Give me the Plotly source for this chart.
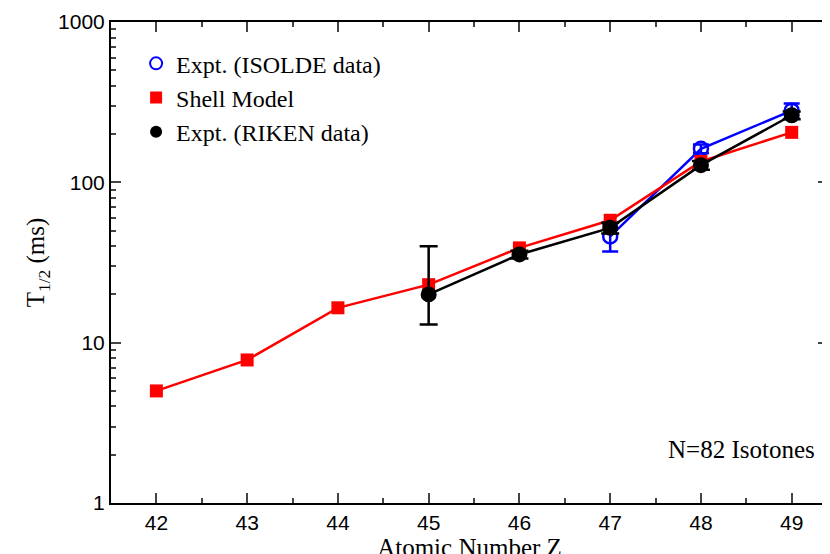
import plotly.graph_objects as go

z_sm = [42, 43, 44, 45, 46, 47, 48, 49]
t_sm = [5.0, 7.8, 16.5, 23, 39, 58, 135, 205]
z_is = [47, 48, 49]
t_is = [46, 162, 280]
is_up = [9, 10, 30]
is_dn = [9, 10, 30]
z_rk = [45, 46, 47, 48, 49]
t_rk = [20, 35.5, 52, 128, 262]
rk_up = [20, 2, 4, 8, 15]
rk_dn = [7, 2, 4, 8, 15]

fig = go.Figure()
fig.add_trace(go.Scatter(x=z_is, y=t_is, mode="lines+markers", showlegend=False,
    line=dict(color="blue", width=2.5),
    marker=dict(symbol="circle-open", size=14, color="blue", line=dict(width=2.5)),
    error_y=dict(type="data", array=is_up, arrayminus=is_dn, color="blue", thickness=2.5, width=8)))
fig.add_trace(go.Scatter(x=z_sm, y=t_sm, mode="lines+markers", showlegend=False,
    line=dict(color="red", width=2.5), marker=dict(symbol="square", size=13, color="red")))
fig.add_trace(go.Scatter(x=z_rk, y=t_rk, mode="lines+markers", showlegend=False,
    line=dict(color="black", width=2.5), marker=dict(symbol="circle", size=16, color="black"),
    error_y=dict(type="data", array=rk_up, arrayminus=rk_dn, color="black", thickness=2.5, width=9)))

# legend entries (markers only, as in the reference)
fig.add_trace(go.Scatter(x=[None], y=[None], mode="markers", name="Expt. (ISOLDE data)",
    marker=dict(symbol="circle-open", size=16, color="blue", line=dict(width=2.5))))
fig.add_trace(go.Scatter(x=[None], y=[None], mode="markers", name="Shell Model",
    marker=dict(symbol="square", size=14, color="red")))
fig.add_trace(go.Scatter(x=[None], y=[None], mode="markers", name="Expt. (RIKEN data)",
    marker=dict(symbol="circle", size=16, color="black")))

fig.add_annotation(x=0.985, y=0.08, xref="paper", yref="paper", xanchor="right", showarrow=False,
    text="N=82 Isotones", font=dict(family="Liberation Serif", size=25, color="black"))

fig.update_layout(
    width=830, height=554, margin=dict(l=103, r=10, t=14, b=59, autoexpand=False),
    plot_bgcolor="white", paper_bgcolor="white",
    font=dict(family="Liberation Sans", size=21, color="black"),
    legend=dict(x=0.035, y=0.96, xanchor="left", yanchor="top", bgcolor="rgba(0,0,0,0)",
                font=dict(family="Liberation Serif", size=24), itemsizing="constant",
                tracegroupgap=0, itemwidth=30),
    xaxis=dict(range=[41.5, 49.4], dtick=1, showgrid=False, zeroline=False, automargin=False,
               showline=True, linecolor="black", linewidth=2, mirror="ticks",
               ticks="inside", ticklen=10, tickwidth=2,
               minor=dict(dtick=0.5, ticks="inside", ticklen=5, tickwidth=1.5),
               title=dict(text="Atomic Number Z", font=dict(family="Liberation Serif", size=25), standoff=0)),
    yaxis=dict(type="log", range=[0, 3], tickvals=[1, 10, 100, 1000], ticktext=["1", "10", "100", "1000"],
               showgrid=False, zeroline=False, automargin=False,
               showline=True, linecolor="black", linewidth=2, mirror="ticks",
               ticks="inside", ticklen=10, tickwidth=2,
               minor=dict(dtick="D1", ticks="inside", ticklen=5, tickwidth=1.5),
               title=dict(text="T<sub>1/2</sub> (ms)", font=dict(family="Liberation Serif", size=25), standoff=6)),
)
fig.write_html("out.html")
